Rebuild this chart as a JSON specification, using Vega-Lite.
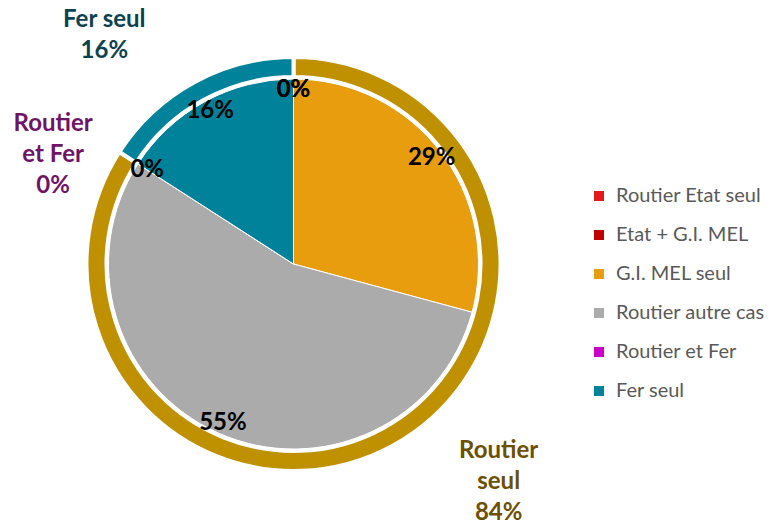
{
  "$schema": "https://vega.github.io/schema/vega-lite/v6.json",
  "width": 587,
  "height": 528,
  "padding": 0,
  "autosize": {"type": "pad"},
  "config": {"view": {"stroke": null}, "font": "Lato", "text": {"font": "Lato"}},
  "datasets": {
    "inner": [
      {"k": 1, "cat": "Routier Etat seul", "v": 0},
      {"k": 2, "cat": "Etat + G.I. MEL", "v": 0},
      {"k": 3, "cat": "G.I. MEL seul", "v": 0.292},
      {"k": 4, "cat": "Routier autre cas", "v": 0.549},
      {"k": 5, "cat": "Routier et Fer", "v": 0},
      {"k": 6, "cat": "Fer seul", "v": 0.159}
    ],
    "outer": [
      {"k": 1, "cat": "Routier seul", "v": 0.841, "label": "Routier\nseul\n84%"},
      {"k": 2, "cat": "Routier et Fer", "v": 0, "label": "Routier\net Fer\n0%"},
      {"k": 3, "cat": "Fer seul", "v": 0.159, "label": "Fer seul\n16%"}
    ]
  },
  "layer": [
    {
      "data": {"name": "inner"},
      "mark": {"type": "arc", "outerRadius": 185, "innerRadius": 0, "stroke": "white", "strokeWidth": 1},
      "encoding": {
        "theta": {"field": "v", "type": "quantitative", "stack": true},
        "order": {"field": "k", "type": "quantitative"},
        "color": {
          "field": "cat", "type": "nominal",
          "scale": {
            "domain": ["Routier Etat seul", "Etat + G.I. MEL", "G.I. MEL seul", "Routier autre cas", "Routier et Fer", "Fer seul"],
            "range": ["#E3191C", "#C00000", "#E89D0E", "#ABABAB", "#CC00CC", "#00829B"]
          },
          "legend": {
            "title": null, "orient": "none", "legendX": 589, "legendY": 186,
            "symbolType": "square", "symbolSize": 100, "symbolStrokeWidth": 0,
            "labelFont": "Lato", "labelFontSize": 20, "labelColor": "#595959",
            "labelOffset": 7, "rowPadding": 19, "padding": 0, "labelLimit": 300
          }
        }
      }
    },
    {
      "data": {"name": "outer"},
      "mark": {"type": "arc", "outerRadius": 207, "innerRadius": 187, "stroke": "white", "strokeWidth": 4},
      "encoding": {
        "theta": {"field": "v", "type": "quantitative", "stack": true},
        "order": {"field": "k", "type": "quantitative"},
        "color": {
          "field": "cat", "type": "nominal",
          "scale": {"domain": ["Routier seul", "Routier et Fer", "Fer seul"], "range": ["#BF9000", "#CC00CC", "#00829B"]},
          "legend": null
        }
      }
    },
    {
      "data": {"name": "inner"},
      "mark": {"type": "text", "radius": 174, "fontSize": 24, "fontWeight": "bold", "color": "#000000", "font": "Lato"},
      "encoding": {
        "theta": {"field": "v", "type": "quantitative", "stack": true},
        "order": {"field": "k", "type": "quantitative"},
        "text": {"field": "v", "type": "quantitative", "format": ".0%"}
      }
    },
    {
      "data": {"name": "outer"},
      "mark": {"type": "text", "radius": 230, "dx": 95, "dy": -15, "fontSize": 24, "fontWeight": "bold", "color": "#6B5000", "lineBreak": "\n", "lineHeight": 31, "font": "Lato"},
      "encoding": {
        "theta": {"field": "v", "type": "quantitative", "stack": true},
        "order": {"field": "k", "type": "quantitative"},
        "text": {"condition": {"test": "datum.cat == 'Routier seul'", "field": "label"}, "value": ""}
      }
    },
    {
      "data": {"name": "outer"},
      "mark": {"type": "text", "radius": 230, "dx": -47, "dy": -16, "fontSize": 24, "fontWeight": "bold", "color": "#6E1468", "lineBreak": "\n", "lineHeight": 31, "font": "Lato"},
      "encoding": {
        "theta": {"field": "v", "type": "quantitative", "stack": true},
        "order": {"field": "k", "type": "quantitative"},
        "text": {"condition": {"test": "datum.cat == 'Routier et Fer'", "field": "label"}, "value": ""}
      }
    },
    {
      "data": {"name": "outer"},
      "mark": {"type": "text", "radius": 230, "dx": -79, "dy": -42, "fontSize": 24, "fontWeight": "bold", "color": "#0D424E", "lineBreak": "\n", "lineHeight": 31, "font": "Lato"},
      "encoding": {
        "theta": {"field": "v", "type": "quantitative", "stack": true},
        "order": {"field": "k", "type": "quantitative"},
        "text": {"condition": {"test": "datum.cat == 'Fer seul'", "field": "label"}, "value": ""}
      }
    }
  ],
  "resolve": {"scale": {"color": "independent"}}
}
